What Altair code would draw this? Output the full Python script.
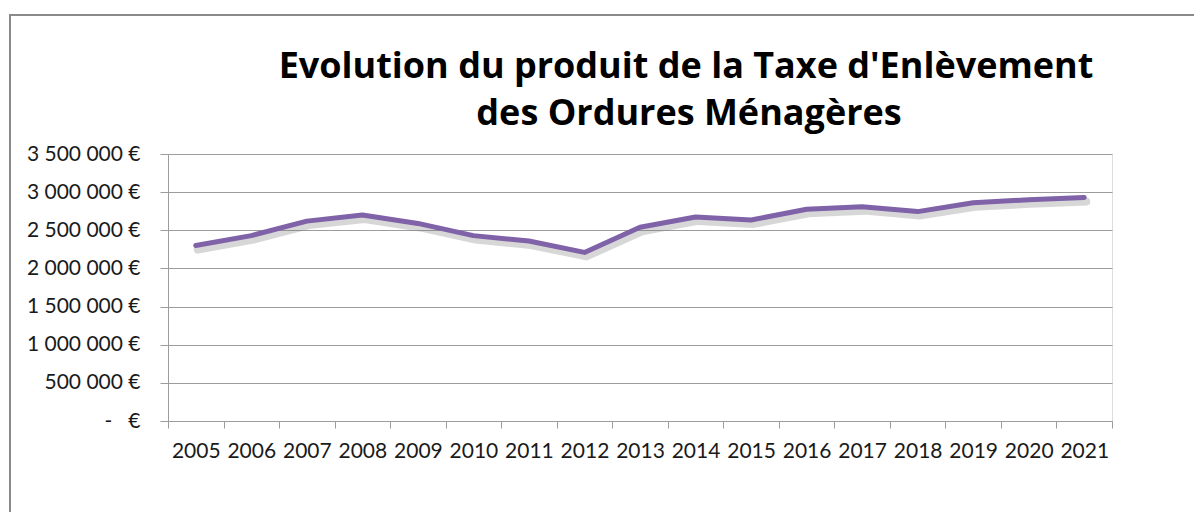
import altair as alt
import pandas as pd

years = [str(y) for y in range(2005, 2022)]
values = [2300000, 2430000, 2620000, 2700000, 2590000, 2430000, 2360000, 2210000,
          2540000, 2675000, 2635000, 2775000, 2810000, 2745000, 2860000, 2900000, 2930000]
y_ticks = [0, 500000, 1000000, 1500000, 2000000, 2500000, 3000000, 3500000]
title_line1 = "Evolution du produit de la Taxe d'Enlèvement"
title_line2 = "des Ordures Ménagères"

df = pd.DataFrame({"annee": years, "montant": values})
one = pd.DataFrame({"a": [0]})

FONT = "Lato"
TFONT = "Open Sans"
GRID = "#9c9c9c"

x_enc = alt.X("annee:N", sort=years,
              scale=alt.Scale(type="band", paddingInner=0, paddingOuter=0),
              axis=alt.Axis(title=None, labelAngle=0, tickBand="extent", grid=False,
                            domainColor=GRID, tickColor=GRID, tickSize=7,
                            labelPadding=12, labelFont=FONT, labelFontSize=21,
                            labelColor="#1a1a1a"))
y_enc = alt.Y("montant:Q",
              scale=alt.Scale(domain=[0, 3500000], nice=False),
              axis=alt.Axis(title=None, values=y_ticks, grid=True, gridColor=GRID,
                            domainColor=GRID, tickColor=GRID, tickSize=8,
                            labelPadding=20, labelFont=FONT, labelFontSize=21,
                            labelColor="#1a1a1a",
                            labelExpr="datum.value == 0 ? '-\u00a0\u00a0\u00a0€' : replace(format(datum.value, ',.0f'), regexp(',', 'g'), '\u00a0') + '\u00a0€'"))

base = alt.Chart(df)

shadow = base.mark_line(color="#7a7a7a", opacity=0.3, strokeWidth=8,
                        yOffset=4, xOffset=2, strokeCap="round").encode(x=x_enc, y=y_enc)
line = base.mark_line(color="#7f62a8", strokeWidth=5, strokeCap="round",
                      strokeJoin="round").encode(x=x_enc, y=y_enc)

frame = alt.Chart(one).mark_rect(
    fill=None, stroke="#8a8a8a", strokeWidth=2, clip=False
).encode(x=alt.value(-158), x2=alt.value(1100), y=alt.value(-139), y2=alt.value(420))

t1 = alt.Chart(one).mark_text(font=TFONT, fontSize=36, fontWeight="bold", color="#000000",
                              align="center", baseline="alphabetic").encode(
    x=alt.value(518), y=alt.value(-76), text=alt.value(title_line1))
t2 = alt.Chart(one).mark_text(font=TFONT, fontSize=36, fontWeight="bold", color="#000000",
                              align="center", baseline="alphabetic").encode(
    x=alt.value(521), y=alt.value(-29), text=alt.value(title_line2))

chart = alt.layer(frame, shadow, line, t1, t2).properties(
    width=944, height=267,
    autosize=alt.AutoSizeParams(type="none"),
    padding={"left": 160, "top": 146, "right": 82, "bottom": 91},
).configure_view(stroke=None).configure(background="white")

chart.save("out.html", embed_options={"renderer": "svg", "actions": False})
